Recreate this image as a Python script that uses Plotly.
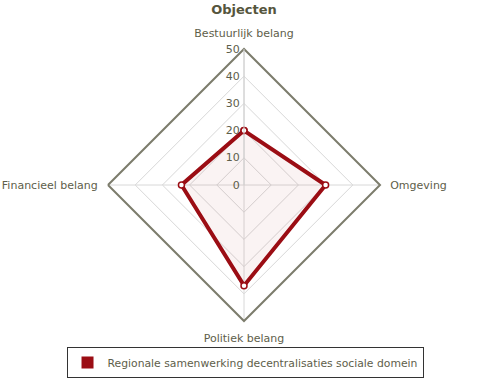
import plotly.graph_objects as go

categories = ["Bestuurlijk belang", "Omgeving", "Politiek belang", "Financieel belang"]
values = [20, 30, 37, 23]
series_name = "Regionale samenwerking decentralisaties sociale domein"
radial_ticks = [0, 10, 20, 30, 40, 50]

red = "#9b0d14"
txt = "#5e5e4a"

fig = go.Figure()
fig.add_trace(go.Scatterpolar(
    r=values + values[:1], theta=categories + categories[:1],
    mode="lines+markers", fill="toself", fillcolor="rgba(155,13,20,0.05)",
    line=dict(color=red, width=4),
    marker=dict(color="white", size=6, line=dict(color=red, width=1.5)),
    showlegend=False, hoverinfo="r+theta"))
fig.add_trace(go.Scatterpolar(
    r=[None], theta=[categories[0]], mode="markers", name=series_name,
    marker=dict(symbol="square", size=12, color=red), showlegend=True))

fig.update_layout(
    width=492, height=381, margin=dict(l=0, r=0, t=0, b=0),
    paper_bgcolor="white", plot_bgcolor="white",
    font=dict(family="DejaVu Sans", size=11, color=txt),
    title=dict(text="<b>Objecten</b>", x=0.496, xanchor="center", y=0.988, yanchor="top",
               font=dict(size=13, color="#55553d")),
    polar=dict(
        domain=dict(x=[108/492, 380/492], y=[1-321/381, 1-49/381]),
        bgcolor="white", gridshape="linear",
        radialaxis=dict(range=[0, 50], tickvals=radial_ticks, angle=90, tickangle=90,
                        side="counterclockwise",
                        showline=True, linecolor="#d0d0d0", linewidth=1,
                        gridcolor="#d8d8d8", gridwidth=1, ticks="",
                        tickfont=dict(size=11, color=txt)),
        angularaxis=dict(direction="clockwise", rotation=90,
                         showline=True, linecolor="#7c7c6c", linewidth=2,
                         gridcolor="#d8d8d8", ticks="outside", ticklen=7,
                         tickcolor="rgba(0,0,0,0)",
                         tickfont=dict(size=11, color=txt)),
    ),
    legend=dict(orientation="h", x=0.498, xanchor="center", y=0.008, yanchor="bottom",
                bordercolor="#333333", borderwidth=1, bgcolor="white",
                itemwidth=30,
                font=dict(size=10.8, color=txt)),
)

fig.write_html("out.html", config={"displayModeBar": False},
               post_script="document.body.style.margin='0';document.body.style.padding='0';")
